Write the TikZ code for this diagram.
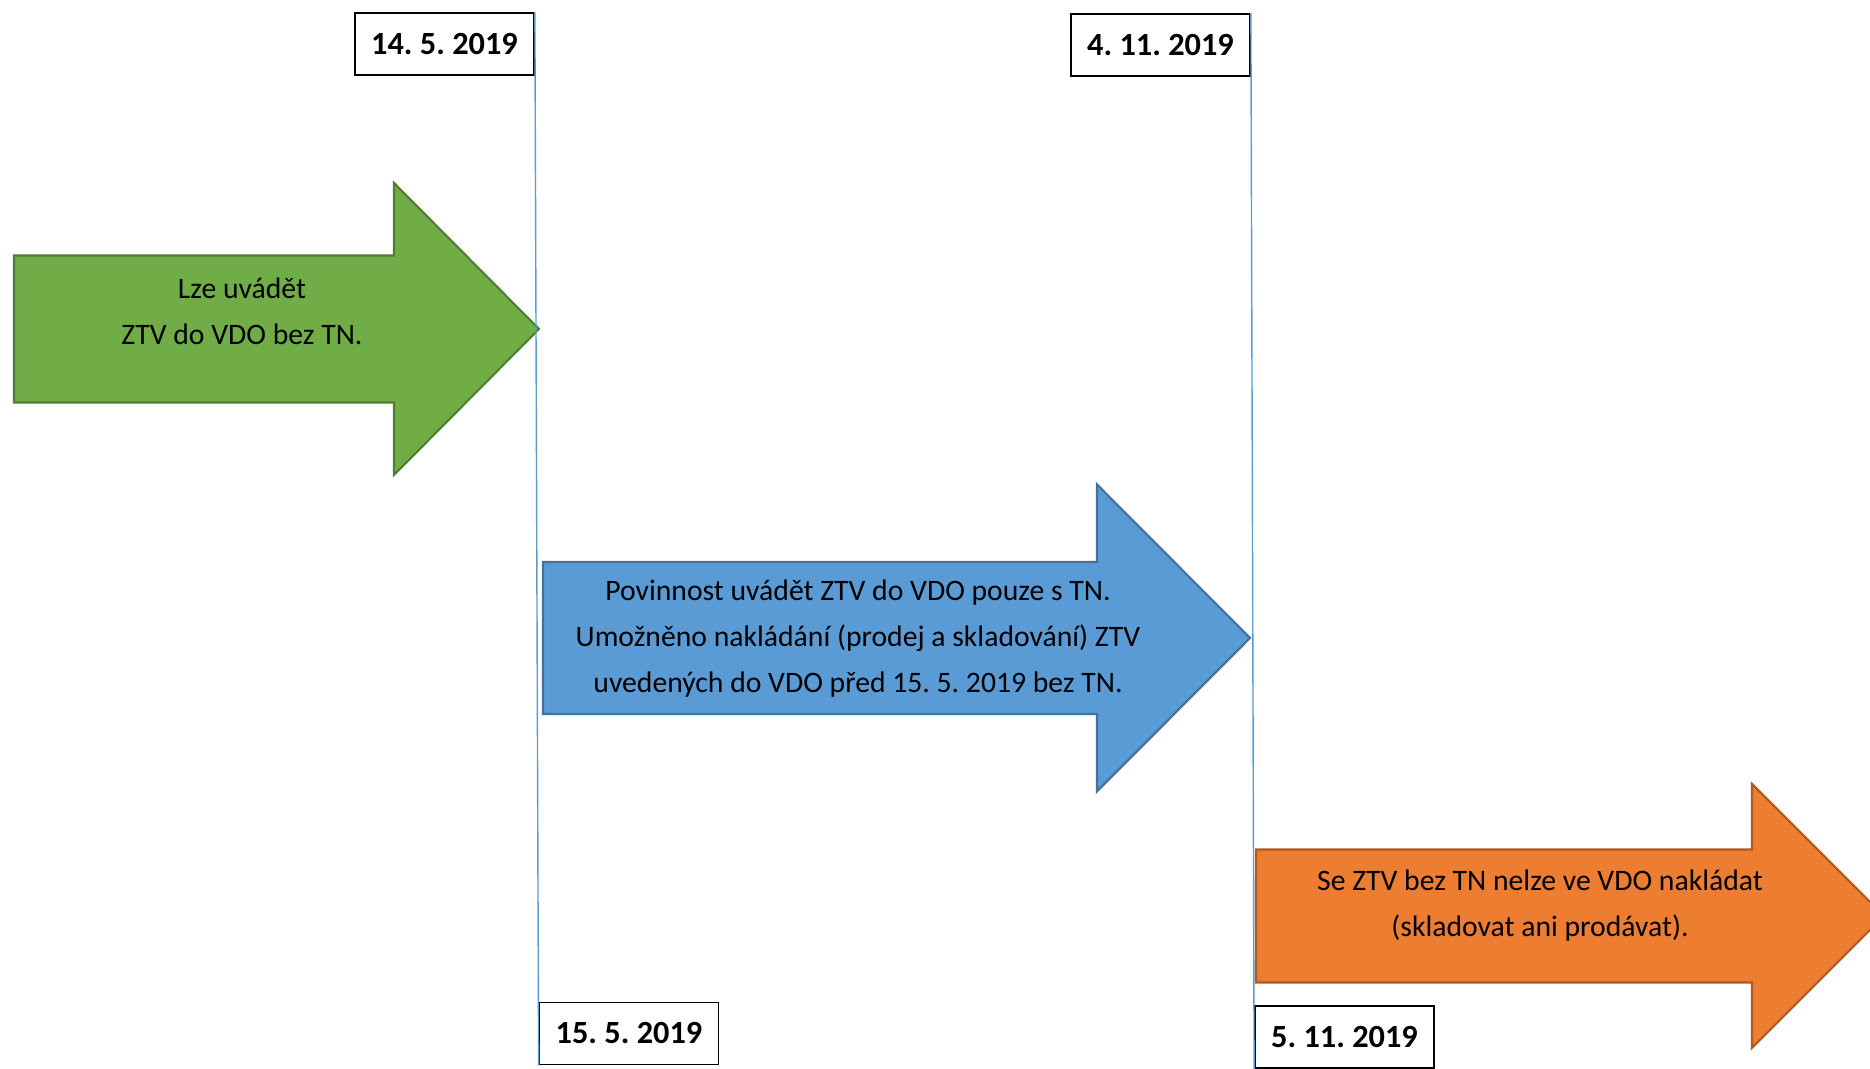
\documentclass[tikz,border=0pt]{standalone}
\usepackage{fontspec}
\setmainfont{Carlito}
\usetikzlibrary{calc}
\frenchspacing

\definecolor{arrgreen}{HTML}{70AD47}
\definecolor{arrgreenline}{HTML}{507E32}
\definecolor{arrblue}{HTML}{5B9BD5}
\definecolor{arrblueline}{HTML}{41719C}
\definecolor{arrorange}{HTML}{ED7D31}
\definecolor{arrorangeline}{HTML}{AE5A21}
\definecolor{milestoneblue}{HTML}{5B9BD5}

\begin{document}
\begin{tikzpicture}[font=\fontsize{8.45}{13.1}\selectfont]
  \tikzset{
    datebox/.style={draw=black, line width=0.5pt, fill=white,
      minimum width=1.79cm, minimum height=0.62cm, inner sep=0pt,
      font=\fontsize{9.2}{11}\selectfont\bfseries},
    milestone/.style={draw=milestoneblue, line width=0.4pt},
    arrowtext/.style={align=center, text=black, inner sep=0pt}
  }
  \useasboundingbox (0,0) rectangle (18.70,10.69);

  % Block arrows: left x / head x / tip x / centre y / half body / half head / fill / border
  \foreach \xa/\xh/\xt/\yc/\bh/\hh/\col/\edge in {%
    0.14/3.94/5.39/7.40/0.735/1.46/arrgreen/arrgreenline,%
    5.43/10.97/12.50/4.31/0.76/1.535/arrblue/arrblueline,%
    12.56/17.52/18.84/1.53/0.665/1.32/arrorange/arrorangeline%
  }{
    \draw[fill=\col, draw=\edge, line width=0.6pt, line join=miter]
      (\xa,\yc-\bh) -- (\xh,\yc-\bh) -- (\xh,\yc-\hh) -- (\xt,\yc)
      -- (\xh,\yc+\hh) -- (\xh,\yc+\bh) -- (\xa,\yc+\bh) -- cycle;
  }

  % Texts inside the arrows
  \node[arrowtext] (before) at (2.42,7.58) {Lze uvádět\\ZTV do VDO bez TN.};
  \node[arrowtext] (during) at (8.58,4.30)
    {Povinnost uvádět ZTV do VDO pouze s TN.\\
     Umožněno nakládání (prodej a skladování) ZTV\\
     uvedených do VDO před 15. 5. 2019 bez TN.};
  \node[arrowtext] (after) at (15.40,1.635)
    {Se ZTV bez TN nelze ve VDO nakládat\\(skladovat ani prodávat).};

  % Date labels
  \foreach \name/\x/\y/\txt in {%
    d1405/4.445/10.25/14. 5. 2019,%
    d0411/11.605/10.24/4. 11. 2019,%
    d1505/6.29/0.355/15. 5. 2019,%
    d0511/13.445/0.32/5. 11. 2019%
  }{
    \node[datebox] (\name) at (\x,\y) {\txt};
  }

  % Milestone lines
  \draw[milestone] (d1405.north east) -- (d1505.south west);
  \draw[milestone] (d0411.north east) -- (d0511.south west);
\end{tikzpicture}
\end{document}
